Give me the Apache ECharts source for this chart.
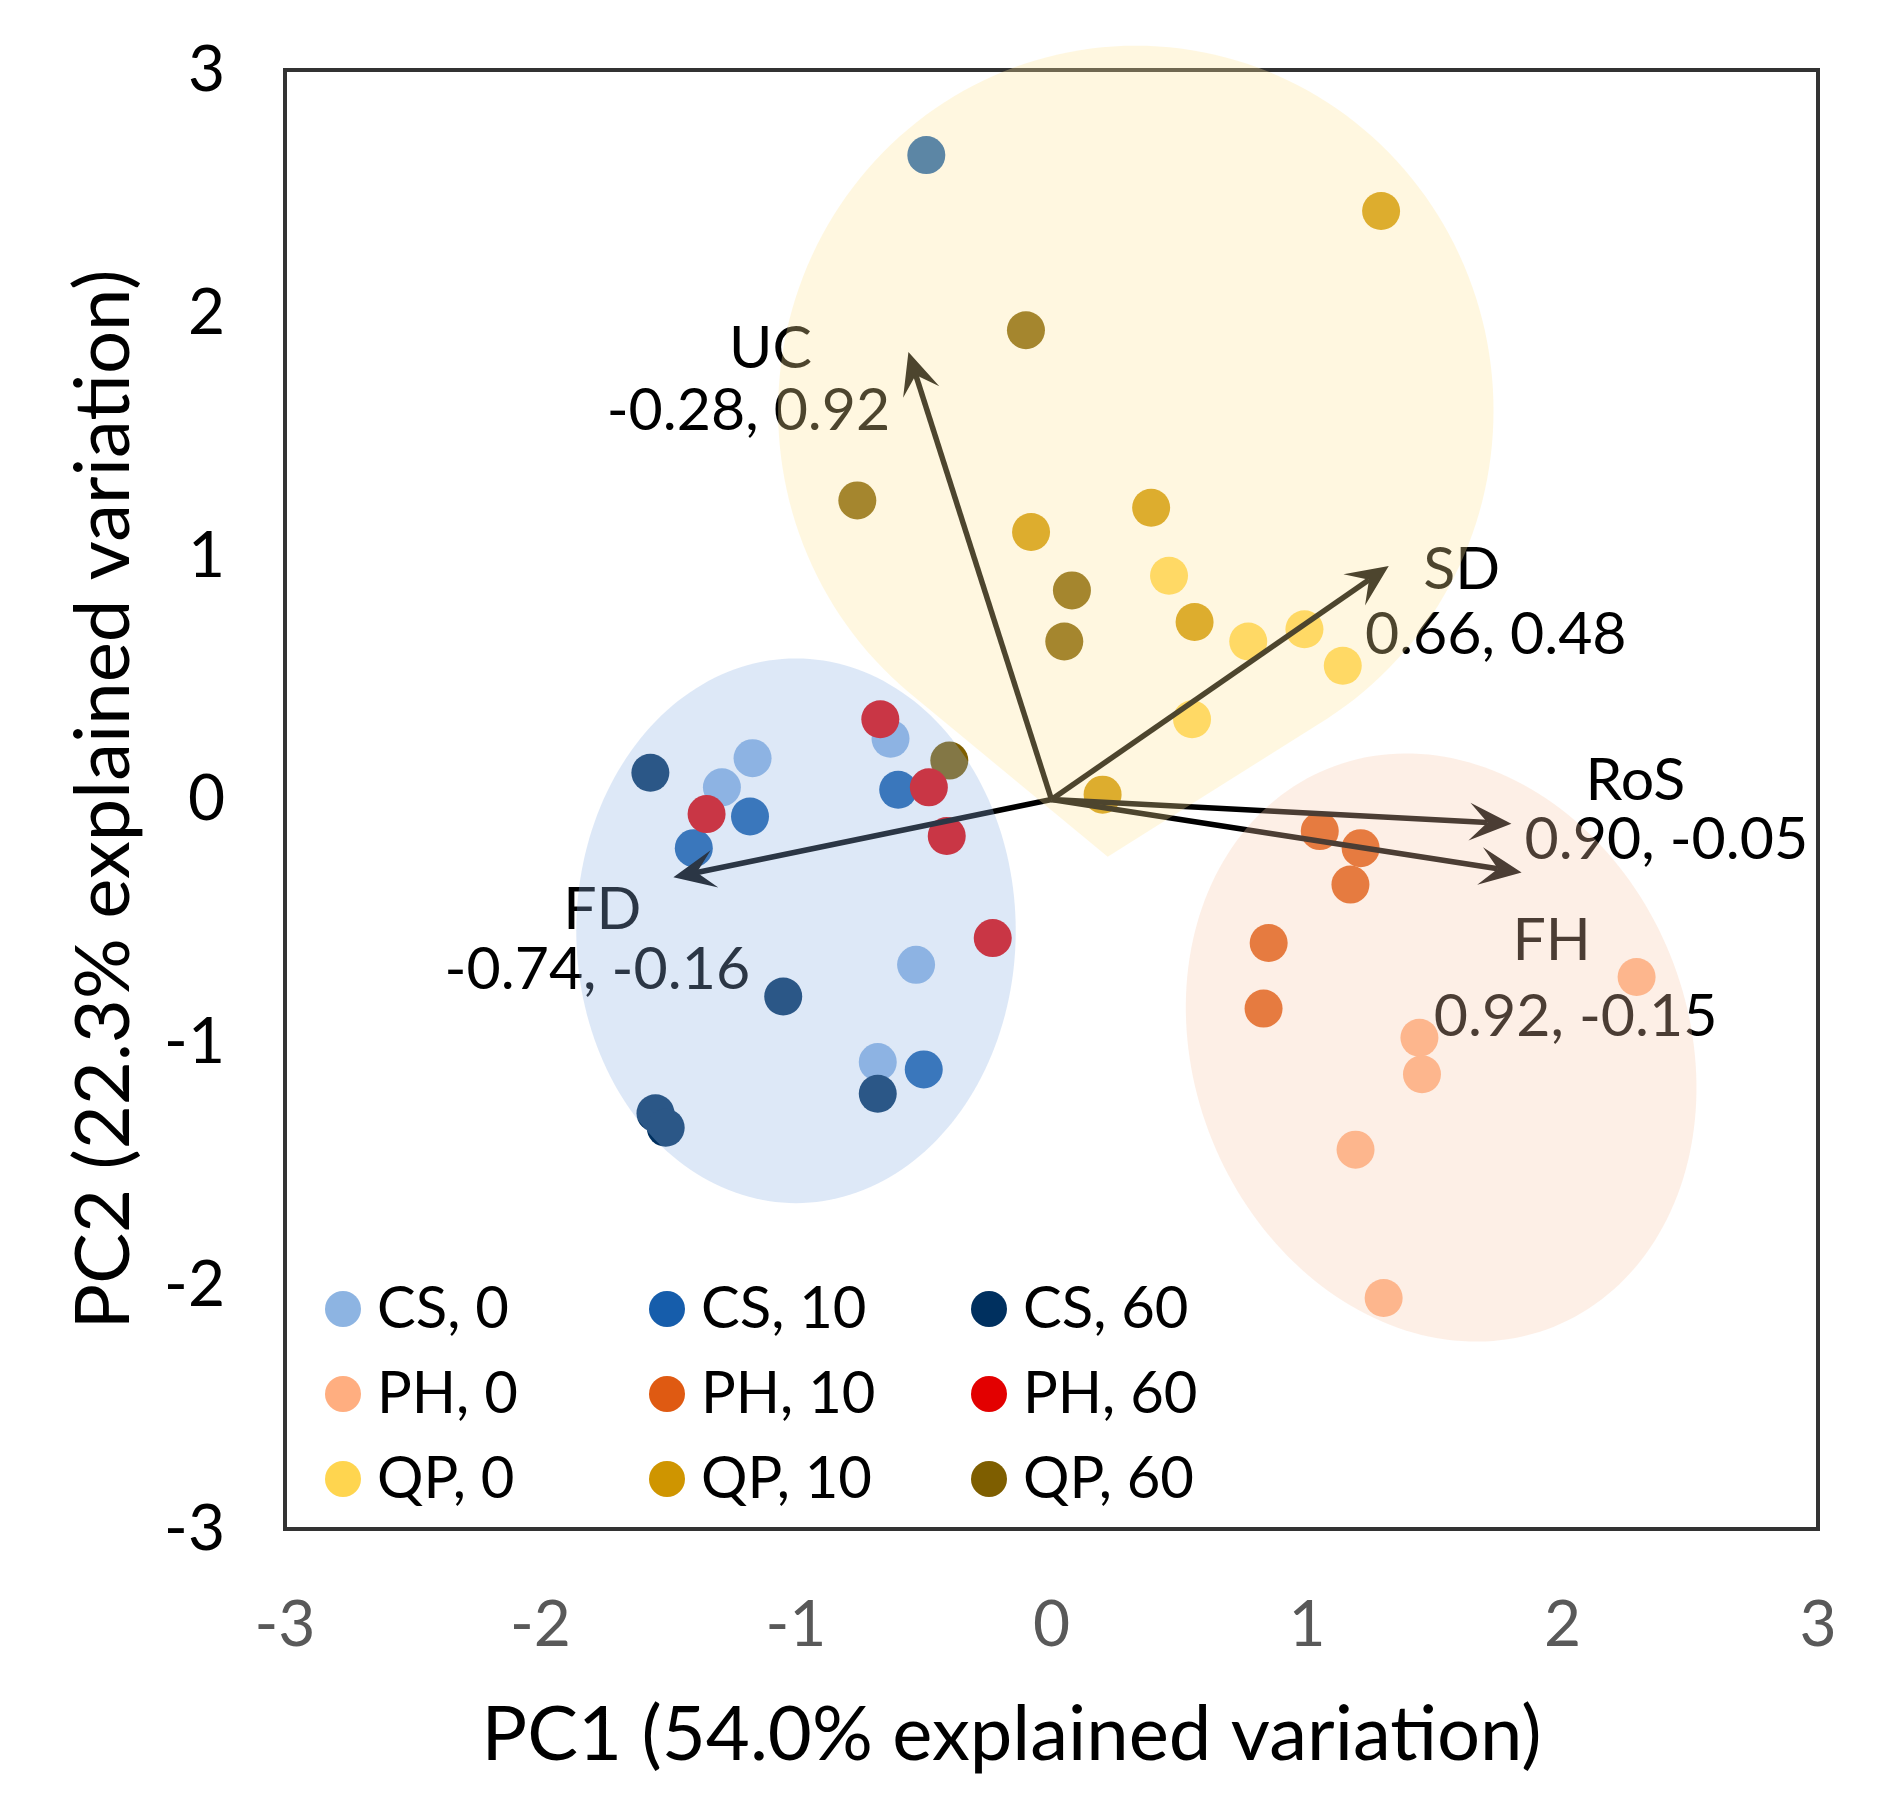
<!DOCTYPE html>
<html>
<head>
<meta charset="utf-8">
<script src="https://cdn.jsdelivr.net/npm/echarts@6/dist/echarts.min.js"></script>
<style>
  html, body { margin: 0; padding: 0; background: #fff; }
  #main { width: 1889px; height: 1805px; }
</style>
</head>
<body>
<div id="main"></div>
<script>
// PCA scores (PC1, PC2) per group
const cs0  = [[-1.29, 0.05], [-1.17, 0.17], [-0.63, 0.25], [-0.53, -0.68], [-0.68, -1.08]];
const cs10 = [[-1.18, -0.07], [-1.40, -0.20], [-0.60, 0.04], [-0.50, -1.11], [-0.49, 2.65]];
const cs60 = [[-1.57, 0.11], [-1.05, -0.81], [-0.68, -1.21], [-1.55, -1.29], [-1.51, -1.35]];
const qp0  = [[0.46, 0.92], [0.77, 0.65], [0.99, 0.70], [1.14, 0.55], [0.55, 0.33]];
const qp10 = [[1.29, 2.42], [-0.08, 1.10], [0.39, 1.20], [0.56, 0.73], [0.20, 0.02]];
const qp60 = [[-0.40, 0.16], [-0.10, 1.93], [-0.76, 1.23], [0.08, 0.86], [0.05, 0.65]];
const ph0  = [[2.29, -0.73], [1.44, -0.98], [1.45, -1.13], [1.19, -1.44], [1.30, -2.05]];
const ph10 = [[1.05, -0.13], [1.21, -0.20], [1.17, -0.35], [0.85, -0.59], [0.83, -0.86]];
const ph60 = [[-1.35, -0.06], [-0.67, 0.33], [-0.48, 0.05], [-0.41, -0.15], [-0.23, -0.57]];

const groupNames = ['CS, 0', 'CS, 10', 'CS, 60', 'QP, 0', 'QP, 10', 'QP, 60', 'PH, 0', 'PH, 10', 'PH, 60'];
const groupData = [cs0, cs10, cs60, qp0, qp10, qp60, ph0, ph10, ph60];
const groupColors = ['#8DB4E2', '#165DAB', '#00305F', '#FFD54F', '#CF9500', '#7E5E00', '#FFAE80', '#DF5A12', '#E30000'];

// loadings, drawn at 2x
const loadingNames = ['UC', 'SD', 'RoS', 'FH', 'FD'];
const loadingX = [-0.28, 0.66, 0.90, 0.92, -0.74];
const loadingY = [0.92, 0.48, -0.05, -0.15, -0.16];
const arrowScale = 2;

const tickValues = [-3, -2, -1, 0, 1, 2, 3];

// group envelopes (centre, radii in axis units, tilt in degrees)
const hulls = [
  { cx: -1.00, cy: -0.54, rx: 0.86, ry: 1.12, rot: 0, color: '#8EB4E3' },
  { cx: 0.33, cy: 1.60, rx: 1.40, ry: 1.50, rot: 0, tip: [0.22, -0.235], color: '#FFE699' },
  { cx: 1.525, cy: -1.02, rx: 0.967, ry: 1.238, rot: -22, color: '#F8CBAD' }
];

// label offsets from arrow tip, px: [nameDx, nameDy, valueDx, valueDy]
const labelOffsets = [
  [-138, -3, -160, 59],
  [73, 4, 107, 69],
  [124, -43, 155, 16],
  [30, 69, 54, 145],
  [-71, 33, -76, 93]
];

const FONT = 'Lato';

function ellipsePoints(api, h) {
  const c = api.coord([h.cx, h.cy]);
  const s = api.size([1, 1]);
  const a = h.rx * s[0], b = h.ry * s[1];
  const r = h.rot * Math.PI / 180;
  const pts = [];
  for (let i = 0; i < 200; i++) {
    const t = i / 200 * Math.PI * 2;
    const x = a * Math.cos(t), y = b * Math.sin(t);
    pts.push([c[0] + x * Math.cos(r) - y * Math.sin(r), c[1] + x * Math.sin(r) + y * Math.cos(r)]);
  }
  return pts;
}

function convexHull(points) {
  const p = points.slice().sort((a, b) => a[0] - b[0] || a[1] - b[1]);
  const cross = (o, a, b) => (a[0] - o[0]) * (b[1] - o[1]) - (a[1] - o[1]) * (b[0] - o[0]);
  const lower = [], upper = [];
  for (const pt of p) {
    while (lower.length >= 2 && cross(lower[lower.length - 2], lower[lower.length - 1], pt) <= 0) lower.pop();
    lower.push(pt);
  }
  for (let i = p.length - 1; i >= 0; i--) {
    const pt = p[i];
    while (upper.length >= 2 && cross(upper[upper.length - 2], upper[upper.length - 1], pt) <= 0) upper.pop();
    upper.push(pt);
  }
  upper.pop(); lower.pop();
  return lower.concat(upper);
}

const scatterSeries = groupNames.map((name, i) => ({
  name: name,
  type: 'scatter',
  data: groupData[i],
  symbol: 'circle',
  symbolSize: 38,
  itemStyle: { color: groupColors[i], opacity: 1 },
  emphasis: { disabled: true },
  z: 2
}));

const arrowSeries = {
  type: 'custom',
  coordinateSystem: 'cartesian2d',
  silent: true,
  clip: false,
  z: 3,
  data: loadingX.map((x, i) => [x, loadingY[i]]),
  renderItem: function (params, api) {
    const i = params.dataIndex;
    const o = api.coord([0, 0]);
    const t = api.coord([api.value(0) * arrowScale, api.value(1) * arrowScale]);
    const len = Math.hypot(t[0] - o[0], t[1] - o[1]);
    const d = [(t[0] - o[0]) / len, (t[1] - o[1]) / len];
    const n = [-d[1], d[0]];
    const L = 42, W = 19, N = 24;
    const notch = [t[0] - d[0] * N, t[1] - d[1] * N];
    const off = labelOffsets[i];
    const valText = loadingX[i].toFixed(2) + ', ' + loadingY[i].toFixed(2);
    return {
      type: 'group',
      children: [
        { type: 'line', shape: { x1: o[0], y1: o[1], x2: notch[0], y2: notch[1] },
          style: { stroke: '#000', lineWidth: 5.5 } },
        { type: 'polygon', shape: { points: [
            t,
            [t[0] - d[0] * L + n[0] * W, t[1] - d[1] * L + n[1] * W],
            notch,
            [t[0] - d[0] * L - n[0] * W, t[1] - d[1] * L - n[1] * W]
          ] }, style: { fill: '#000' } },
        { type: 'text', style: { text: loadingNames[i], x: t[0] + off[0], y: t[1] + off[1],
            fill: '#000', font: '59px ' + FONT, align: 'center', verticalAlign: 'middle' } },
        { type: 'text', style: { text: valText, x: t[0] + off[2], y: t[1] + off[3],
            fill: '#000', font: '59px ' + FONT, align: 'center', verticalAlign: 'middle' } }
      ]
    };
  }
};

const hullSeries = {
  type: 'custom',
  coordinateSystem: 'cartesian2d',
  silent: true,
  clip: false,
  z: 5,
  data: hulls.map(h => [h.cx, h.cy]),
  renderItem: function (params, api) {
    const h = hulls[params.dataIndex];
    let pts = ellipsePoints(api, h);
    if (h.tip) pts = convexHull(pts.concat([api.coord(h.tip)]));
    return { type: 'polygon', shape: { points: pts }, style: { fill: h.color, opacity: 0.3 } };
  }
};

// legend in three columns
const legendCols = [[0, 6, 3], [1, 7, 4], [2, 8, 5]];
const legendLeft = [325, 649, 971];
const legends = legendCols.map((col, c) => ({
  orient: 'vertical',
  left: legendLeft[c],
  top: 1280,
  padding: 0,
  itemGap: 27,
  itemWidth: 58,
  itemHeight: 36,
  icon: 'circle',
  selectedMode: false,
  data: col.map(k => groupNames[k]),
  textStyle: { fontSize: 58, lineHeight: 58, color: '#000', fontFamily: FONT, padding: 0 }
}));

const chart = echarts.init(document.getElementById('main'));
chart.setOption({
  animation: false,
  backgroundColor: '#fff',
  grid: { left: 285, right: 71, top: 70, bottom: 276, show: true, borderColor: '#333', borderWidth: 4, backgroundColor: 'transparent' },
  legend: legends,
  xAxis: {
    type: 'value', min: tickValues[0], max: tickValues[tickValues.length - 1], interval: 1,
    axisLine: { show: false }, axisTick: { show: false }, splitLine: { show: false },
    axisLabel: { fontSize: 64, lineHeight: 64, color: '#595959', margin: 64, fontFamily: FONT },
    name: 'PC1 (54.0% explained variation)', nameLocation: 'middle', nameGap: 168,
    nameTextStyle: { fontSize: 76, lineHeight: 76, color: '#000', fontFamily: FONT, padding: [0, 80, 0, 0] }
  },
  yAxis: {
    type: 'value', min: tickValues[0], max: tickValues[tickValues.length - 1], interval: 1,
    axisLine: { show: false }, axisTick: { show: false }, splitLine: { show: false },
    axisLabel: { fontSize: 64, color: '#000', margin: 60, fontFamily: FONT },
    name: 'PC2 (22.3% explained variation)', nameLocation: 'middle', nameGap: 143,
    nameTextStyle: { fontSize: 76, lineHeight: 76, color: '#000', fontFamily: FONT }
  },
  series: scatterSeries.concat([arrowSeries, hullSeries])
});
</script>
</body>
</html>
